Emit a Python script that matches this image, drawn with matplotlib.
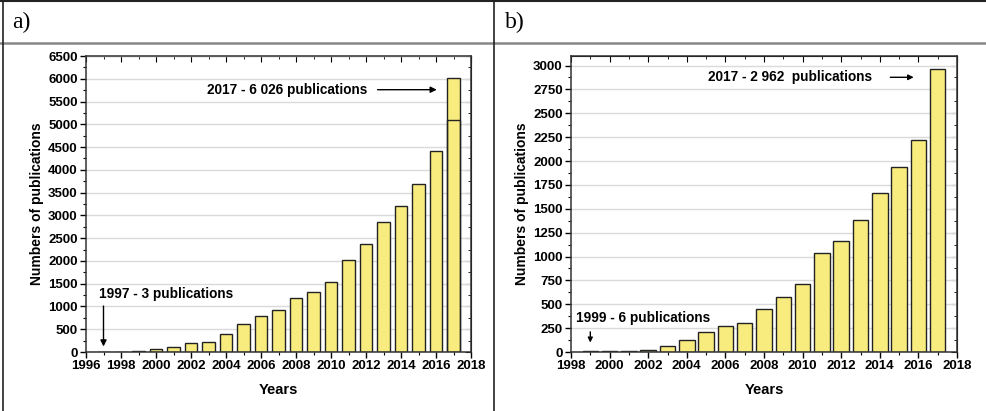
import matplotlib.pyplot as plt
from matplotlib.ticker import MultipleLocator
from matplotlib.lines import Line2D

# panel a
years_a = list(range(1997, 2018))
pubs_a = [3, 5, 25, 55, 120, 200, 230, 395, 625, 800, 930, 1180, 1325, 1545,
          2010, 2375, 2855, 3200, 3690, 4405, 6026]
inner_2017 = 5105

# panel b
years_b = list(range(1999, 2018))
pubs_b = [6, 8, 8, 20, 66, 122, 213, 270, 308, 451, 578, 717, 1032, 1158,
          1379, 1670, 1935, 2222, 2962]

bar_col = '#f7ec7d'
plt.rcParams['font.family'] = ['Liberation Sans', 'DejaVu Sans']

fig = plt.figure(figsize=(9.87, 4.11), dpi=100)

def style(ax, x0, x1, y1, ymaj, ymin):
    ax.set_xlim(x0, x1)
    ax.set_ylim(0, y1)
    ax.xaxis.set_major_locator(MultipleLocator(2))
    ax.xaxis.set_minor_locator(MultipleLocator(1))
    ax.yaxis.set_major_locator(MultipleLocator(ymaj))
    ax.yaxis.set_minor_locator(MultipleLocator(ymin))
    ax.tick_params(which='major', direction='out', length=4, width=1, labelsize=9.5, pad=2)
    ax.tick_params(which='minor', direction='out', length=2, width=0.8)
    for lab in ax.get_xticklabels() + ax.get_yticklabels():
        lab.set_fontweight('bold')
    for s in ax.spines.values():
        s.set_linewidth(1.1)
        s.set_color('#333333')
    ax.grid(axis='y', which='major', color='#dadada', lw=1.0)
    ax.set_axisbelow(True)
    top = ax.secondary_xaxis('top')
    top.xaxis.set_major_locator(MultipleLocator(2))
    top.xaxis.set_minor_locator(MultipleLocator(1))
    top.tick_params(which='major', direction='in', length=4, labeltop=False)
    top.tick_params(which='minor', direction='in', length=2)
    right = ax.secondary_yaxis('right')
    right.yaxis.set_major_locator(MultipleLocator(ymaj))
    right.yaxis.set_minor_locator(MultipleLocator(ymin))
    right.tick_params(which='major', direction='in', length=4, labelright=False)
    right.tick_params(which='minor', direction='in', length=2)
    ax.set_xlabel('Years', fontsize=10.5, fontweight='bold', labelpad=8)
    ax.set_ylabel('Numbers of publications', fontsize=10, fontweight='bold', labelpad=3)

# a)
ax1 = fig.add_axes([86/987, 59/411, 385/987, 296/411])
ax1.bar(years_a, pubs_a, width=0.7, color=bar_col, edgecolor='#222222', lw=1)
ax1.bar([2017], [inner_2017], width=0.7, color='none', edgecolor='#222222', lw=1)
style(ax1, 1996, 2018, 6500, 500, 250)
ax1.text(2002.9, 5760, '2017 - 6 026 publications', fontsize=9.8, fontweight='bold', va='center')
ax1.annotate('', xy=(2016.2, 5760), xytext=(2012.5, 5760),
             arrowprops=dict(arrowstyle='-|>', color='black', lw=1, mutation_scale=9))
ax1.text(1996.75, 1270, '1997 - 3 publications', fontsize=9.8, fontweight='bold', va='center')
ax1.annotate('', xy=(1997, 60), xytext=(1997, 1070),
             arrowprops=dict(arrowstyle='-|>', color='black', lw=1, mutation_scale=9))

# b)
ax2 = fig.add_axes([571/987, 59/411, 386/987, 296/411])
ax2.bar(years_b, pubs_b, width=0.8, color=bar_col, edgecolor='#222222', lw=1)
style(ax2, 1998, 2018, 3100, 250, 125)
ax2.text(2005.1, 2877, '2017 - 2 962  publications', fontsize=9.8, fontweight='bold', va='center')
ax2.annotate('', xy=(2015.9, 2877), xytext=(2014.4, 2877),
             arrowprops=dict(arrowstyle='-|>', color='black', lw=1, mutation_scale=8))
ax2.text(1998.25, 357, '1999 - 6 publications', fontsize=9.8, fontweight='bold', va='center')
ax2.annotate('', xy=(1999, 70), xytext=(1999, 240),
             arrowprops=dict(arrowstyle='-|>', color='black', lw=1, mutation_scale=7))

# frame around the panels
H = 411.0
W = 987.0
fig.add_artist(Line2D([0, 1], [1 - 1.5/H, 1 - 1.5/H], color='#222222', lw=1.5))
fig.add_artist(Line2D([0, 1], [1 - 43/H, 1 - 43/H], color='#888888', lw=1.8))
fig.add_artist(Line2D([3/W, 3/W], [0, 1], color='#222222', lw=1.2))
fig.add_artist(Line2D([494/W, 494/W], [0, 1], color='#222222', lw=1.2))
fig.text(12/W, 1 - 22/H, 'a)', family=['Liberation Serif', 'DejaVu Serif'], fontsize=17, va='center')
fig.text(505/W, 1 - 22/H, 'b)', family=['Liberation Serif', 'DejaVu Serif'], fontsize=17, va='center')

fig.savefig('out.png', dpi=100)
